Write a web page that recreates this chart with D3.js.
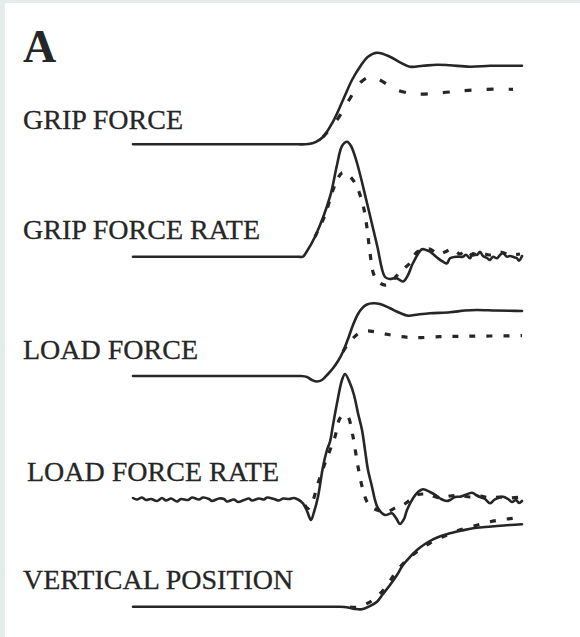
<!DOCTYPE html>
<html>
<head>
<meta charset="utf-8">
<script src="https://cdn.jsdelivr.net/npm/d3@7"></script>
<style>
  html, body { margin: 0; padding: 0; background: #e4ecec; }
  svg { display: block; }
</style>
</head>
<body>
<svg id="chart" width="580" height="637"></svg>
<script>
// Time in samples (0–389) across the trial; values in arbitrary units above each trace's resting level.
const panelLabels = ["GRIP FORCE", "GRIP FORCE RATE", "LOAD FORCE", "LOAD FORCE RATE", "VERTICAL POSITION"];

const gripForceSolid = [[0,0],[150,0],[165,0],[172,0],[177,0.5],[183,2.5],[190,7.3],[200,22.6],[210,44.3],[219,64.3],[227,77.6],[235,87.6],[244,91.6],[257,87.6],[267,82],[277,77.6],[290,78.5],[304,79.6],[317,79],[337,77.6],[357,78.5],[372,78.5],[389,78.6]];
const gripForceDashed = [[190,7.3],[204,24.3],[216,44.3],[228,62.3],[237,67.3],[245,65.3],[264,54.3],[285,50.3],[309,51.6],[330,53.6],[354,55],[380,55]];

const gripRateSolid = [[0,0],[150,0],[165,0],[170,0],[173,4],[182,20],[197,60],[204,91.7],[209,110.7],[214,115],[218,110.7],[224,93.7],[234,53.7],[244,11.7],[252,-20.3],[257,-22.3],[263,-21.3],[270,-24.8],[275,-18.3],[280,-6.3],[289,7.4],[293,6.7],[297,5],[305,-1.6],[310,-5],[314,-6.6],[317,-1.6],[324,0],[330,0],[333,2],[337,-1.6],[340,3.4],[344,1.7],[347,5],[350,0.7],[354,-1.3],[357,-3.3],[360,0],[364,-1.6],[367,1.7],[370,3.4],[374,0],[377,0.7],[381,-0.5],[384,-1.6],[386,-4],[389,0.7]];
const gripRateDashed = [[182,20],[192,41.7],[200,66.7],[205,78.7],[209,83.7],[214,82.7],[222,73.7],[230,51.7],[234,28.7],[237,3.7],[241,-18.3],[247,-26.3],[253,-28.3],[260,-23.3],[267,-15.3],[277,-6.3],[284,4.7],[290,6.7],[297,7.7],[305,2.7],[312,4.7],[319,7.7],[327,2.7],[333,6.7],[339,1.7],[347,3.7],[357,1.7],[367,4.7],[377,1.7],[387,2.7]];

const loadForceSolid = [[0,0],[150,0],[162,0],[167,0],[174,-1],[179,-4],[184,-5.5],[189,-4],[195,2],[200,7.7],[205,15],[210,24.3],[215,37],[220,51],[225,62],[229,67.7],[234,71.5],[240,72.7],[247,72],[257,67.7],[267,63],[275,60.3],[285,61.5],[297,62.7],[317,63.7],[332,65.5],[344,66],[362,65.5],[377,65.2],[389,65]];
const loadForceDashed = [[210,24.3],[215,32],[220,37.7],[225,42],[233,45],[243,44],[254,41.7],[267,39.5],[282,38.3],[307,39.3],[330,39.7],[357,40],[389,40.3]];

const loadRateSolid = [[0,1],[4,-0.5],[9,1.5],[13,-1],[18,0],[24,-2],[29,1],[33,-1.5],[38,0.5],[44,-2.5],[48,0],[55,-1],[59,1.5],[66,-0.5],[70,1.5],[76,0],[79,-2],[86,0.5],[91,0],[94,-2.5],[101,-0.5],[105,-3],[111,-1],[116,0.5],[119,-1.5],[126,0.5],[131,-0.5],[134,1.5],[141,0],[146,-1.5],[150,0.5],[156,0],[161,1],[165,-0.5],[170,-4.3],[174,-12],[178,-21],[181,-13],[185,2.3],[190,32.3],[194,49],[197,57.3],[200,74],[204,95.7],[209,119],[212,125],[217,115.7],[221,104],[225,85.7],[229,69],[232,49],[235,29],[239,12.3],[242,-1],[245,-9.3],[252,-16],[259,-14.3],[263,-19],[267,-25],[271,-20],[274,-11],[280,0.7],[285,7],[290,9.7],[297,7],[304,3],[308,0],[314,-2],[317,-1],[322,2],[327,2.3],[332,4],[339,6.3],[343,4],[347,2],[352,0],[357,-4.3],[361,-1],[365,1],[370,2.3],[375,0],[379,-3],[383,-1],[386,-4],[389,-2]];
const loadRateDashed = [[172,-6],[175,-9.3],[179,-4],[185,15.7],[192,35.7],[197,49],[202,62.3],[207,80.7],[212,84],[215,82.3],[220,62.3],[225,32.3],[230,9],[235,-4.3],[244,-11],[254,-12.7],[262,-9],[270,-6],[277,-1],[284,4],[290,5],[297,4],[307,1],[317,3],[327,3.5],[337,2],[347,3],[357,1],[367,2],[377,1],[389,2]];

const positionSolid = [[0,0],[150,0],[167,0],[190,0],[207,-0.1],[215,-0.8],[222,-2.3],[229,-2.5],[237,0.7],[244,5],[250,12.7],[257,21.7],[264,31.7],[270,41.7],[277,49.7],[284,56.7],[292,62.7],[300,67.4],[308,70.7],[317,73.4],[329,76.2],[340,78.4],[352,79.7],[364,80.7],[377,81.7],[389,82.4]];
const positionDashed = [[217,-0.3],[225,-0.6],[233,2.7],[240,6.7],[246,12.2],[252,18.4],[257,25.7],[262,33.4],[267,39.7],[272,45],[278,50.7],[284,55],[297,63.7],[310,70],[325,76.2],[342,81],[357,85],[374,87.7],[389,89.4]];

const panels = [
  { label: panelLabels[0], solid: gripForceSolid, dashed: gripForceDashed },
  { label: panelLabels[1], solid: gripRateSolid,  dashed: gripRateDashed },
  { label: panelLabels[2], solid: loadForceSolid, dashed: loadForceDashed },
  { label: panelLabels[3], solid: loadRateSolid,  dashed: loadRateDashed },
  { label: panelLabels[4], solid: positionSolid,  dashed: positionDashed }
];

// Layout: resting level of each trace and the baseline of its label
const layout = [
  { rest: 144.3, labelY: 129, labelX: 23, dash: "7,15" },
  { rest: 256.7, labelY: 239, labelX: 23, dash: "6,10" },
  { rest: 376,   labelY: 359, labelX: 23, dash: "6,11" },
  { rest: 499,   labelY: 481, labelX: 27, dash: "6,10" },
  { rest: 606.7, labelY: 589, labelX: 23, dash: "6,11" }
];

const svg = d3.select("#chart");
const ink = "#262626";

svg.append("rect")
  .attr("x", 5).attr("y", 3)
  .attr("width", 575).attr("height", 634)
  .attr("fill", "#ffffff");

svg.append("text")
  .attr("x", 23).attr("y", 62)
  .attr("font-family", "'Liberation Serif', 'Times New Roman', serif")
  .attr("font-weight", "bold")
  .attr("font-size", 46)
  .attr("fill", ink)
  .text("A");

const x = d3.scaleLinear().domain([0, 389]).range([133, 522]);

panels.forEach((p, i) => {
  const L = layout[i];
  const y = d3.scaleLinear().domain([0, 100]).range([L.rest, L.rest - 100]);
  const line = d3.line()
    .x(d => x(d[0]))
    .y(d => y(d[1]))
    .curve(d3.curveCatmullRom.alpha(0.5));

  const g = svg.append("g");

  g.append("text")
    .attr("x", L.labelX).attr("y", L.labelY)
    .attr("font-family", "'Liberation Serif', 'Times New Roman', serif")
    .attr("font-size", 28)
    .attr("fill", ink)
    .attr("stroke", ink)
    .attr("stroke-width", 0.3)
    .text(p.label);

  g.append("path")
    .datum(p.dashed)
    .attr("d", line)
    .attr("fill", "none")
    .attr("stroke", ink)
    .attr("stroke-width", 3.2)
    .attr("stroke-dasharray", L.dash);

  g.append("path")
    .datum(p.solid)
    .attr("d", line)
    .attr("fill", "none")
    .attr("stroke", ink)
    .attr("stroke-width", 2.6)
    .attr("stroke-linejoin", "round")
    .attr("stroke-linecap", "round");
});
</script>
</body>
</html>
